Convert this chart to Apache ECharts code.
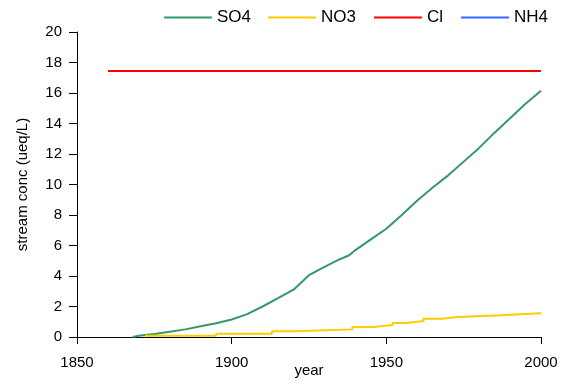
<!DOCTYPE html>
<html><head><meta charset="utf-8">
<script src="https://cdn.jsdelivr.net/npm/echarts@6/dist/echarts.min.js"></script>
<style>html,body{margin:0;padding:0;background:#fff}#c{width:566px;height:385px}</style>
</head><body><div id="c"></div>
<script>
var so4Years = [1868,1870,1875,1880,1885,1890,1895,1900,1905,1910,1915,1920,1925,1930,1935,1938,1940,1945,1950,1955,1960,1965,1970,1975,1980,1985,1990,1995,2000];
var so4Vals  = [0,0.08,0.2,0.35,0.5,0.7,0.9,1.15,1.5,2.0,2.55,3.1,4.05,4.6,5.1,5.36,5.7,6.4,7.1,8.0,8.95,9.8,10.6,11.5,12.4,13.4,14.35,15.3,16.15];
var no3Years = [1872,1895,1913,1920.5,1939,1946,1952,1956.5,1962,1968,1973,1987,2000];
var no3Vals  = [0.08,0.22,0.37,0.5,0.66,0.78,0.92,1.05,1.2,1.31,1.42,1.55,1.55];
var clYears = [1860,2000];
var clVals  = [17.45,17.45];
var nh4Years = [];
var nh4Vals = [];
var names = ['SO4','NO3','Cl','NH4'];
var colors = ['#339966','#FFCC00','#FF0000','#3366FF'];
var legendLeft = [159,263,369,456];

function pairs(xs, ys){ return xs.map(function(x,i){return [x, ys[i]];}); }

var font = 'Liberation Sans, Arial, sans-serif';
var chart = echarts.init(document.getElementById('c'));
chart.setOption({
  animation:false,
  backgroundColor:'#fff',
  grid:{left:77,right:25,top:32,bottom:48,containLabel:false,outerBoundsMode:'none'},
  legend: names.map(function(n,i){
    return {data:[n], left:legendLeft[i], top:4, itemWidth:48, itemHeight:10, itemGap:5,
      icon:'path://M0,4L48,4L48,6L0,6Z',
      textStyle:{fontFamily:font, fontSize:17, color:'#000', padding:[0,0,0,0]}};
  }),
  xAxis:{type:'value', min:1850, max:2000, interval:50,
    name:'year', nameLocation:'middle', nameGap:26, nameMoveOverlap:false,
    nameTextStyle:{fontFamily:font, fontSize:15, color:'#000'},
    axisLine:{lineStyle:{color:'#000',width:1}},
    axisTick:{show:true, length:7, lineStyle:{color:'#000'}},
    axisLabel:{fontFamily:font, fontSize:15, color:'#000', margin:18, formatter:function(v){return String(v);}},
    splitLine:{show:false}},
  yAxis:{type:'value', min:0, max:20, interval:2,
    name:'stream conc (ueq/L)', nameLocation:'middle', nameGap:47, nameMoveOverlap:false,
    nameTextStyle:{fontFamily:font, fontSize:15, color:'#000'},
    axisLine:{show:true, lineStyle:{color:'#000',width:1}},
    axisTick:{show:true, length:8, lineStyle:{color:'#000'}},
    axisLabel:{fontFamily:font, fontSize:15, color:'#000', margin:15},
    splitLine:{show:false}},
  series:[
    {name:'SO4', type:'line', data:pairs(so4Years, so4Vals), showSymbol:false, lineStyle:{color:colors[0],width:2}, itemStyle:{color:colors[0]}},
    {name:'NO3', type:'line', step:'end', data:pairs(no3Years, no3Vals), showSymbol:false, lineStyle:{color:colors[1],width:2}, itemStyle:{color:colors[1]}},
    {name:'Cl', type:'line', data:pairs(clYears, clVals), showSymbol:false, lineStyle:{color:colors[2],width:2}, itemStyle:{color:colors[2]}},
    {name:'NH4', type:'line', data:pairs(nh4Years, nh4Vals), showSymbol:false, lineStyle:{color:colors[3],width:2}, itemStyle:{color:colors[3]}}
  ]
});
</script></body></html>
